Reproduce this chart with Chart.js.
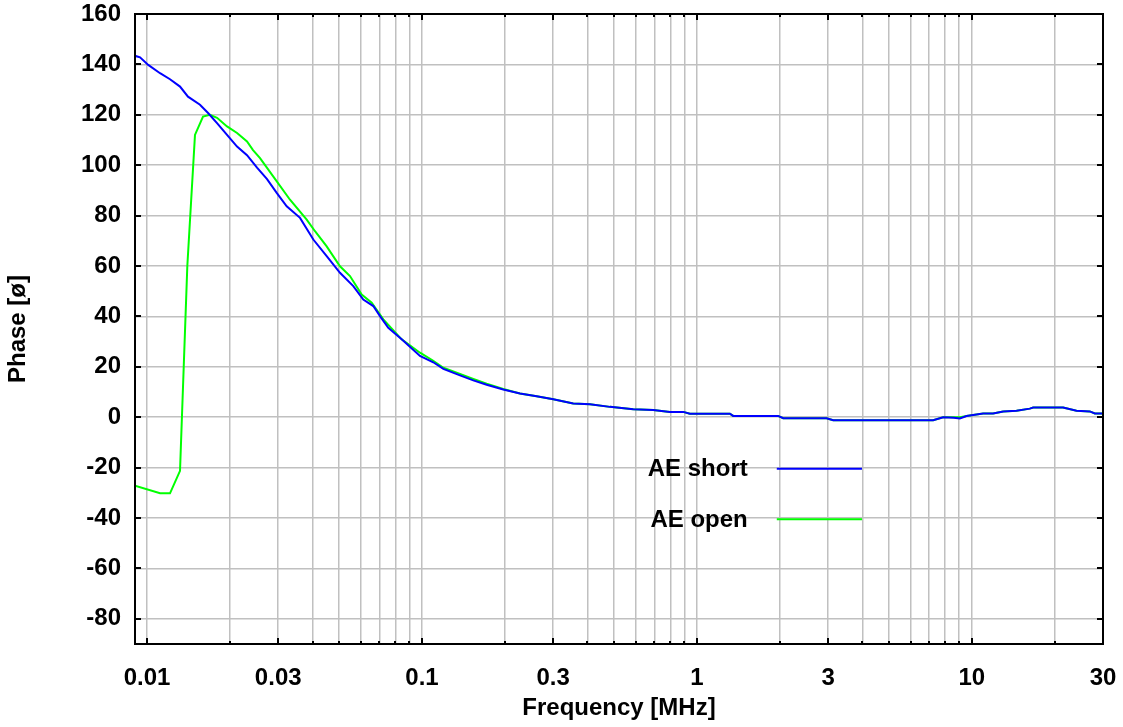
<!DOCTYPE html>
<html>
<head>
<meta charset="utf-8">
<title>Phase vs Frequency</title>
<script src="https://cdn.jsdelivr.net/npm/chart.js@4.4.1/dist/chart.umd.min.js"></script>
<style>
  html, body { margin: 0; padding: 0; background: #fff; }
  #wrap { width: 1123px; height: 727px; }
</style>
</head>
<body>
<div id="wrap"><canvas id="phaseChart" width="1123" height="727"></canvas></div>
<script>
// AE short (blue)
const freqShort = [0.00904, 0.00943, 0.0101, 0.01115, 0.01212, 0.01318, 0.01409, 0.01558, 0.01667, 0.01797,
  0.01954, 0.02125, 0.0231, 0.02512, 0.02732, 0.02962, 0.03221, 0.03601, 0.04025, 0.04502,
  0.05032, 0.05626, 0.06116, 0.06651, 0.07035, 0.07542, 0.08436, 0.09834, 0.1099, 0.1196,
  0.1375, 0.1537, 0.1719, 0.1975, 0.2272, 0.2613, 0.3003, 0.3549, 0.4083, 0.4826,
  0.5867, 0.6936, 0.7978, 0.8917, 0.943, 1.318, 1.355, 1.975, 2.06, 2.962,
  3.131, 7.234, 7.864, 8.6, 9.047, 9.566, 10.99, 11.95, 13.0, 14.54,
  16.25, 16.71, 21.48, 24.03, 26.86, 28.02, 30];
const phaseShort = [143.4, 142.8, 139.8, 136.5, 134.1, 131.2, 127.2, 124.0, 120.7, 116.7,
  112.0, 107.4, 104.0, 99.0, 94.5, 89.0, 83.7, 79.1, 70.5, 63.9,
  57.3, 52.0, 46.7, 44.1, 40.1, 35.5, 30.9, 24.3, 21.8, 19.2,
  16.6, 14.6, 12.9, 11.0, 9.4, 8.3, 7.1, 5.4, 5.1, 4.1,
  3.2, 2.9, 2.1, 2.1, 1.4, 1.4, 0.5, 0.5, -0.4, -0.4,
  -1.2, -1.2, 0.0, -0.2, -0.5, 0.5, 1.5, 1.5, 2.3, 2.6,
  3.4, 3.8, 3.8, 2.6, 2.3, 1.5, 1.5];

// AE open (green)
const freqOpen = [0.00904, 0.01115, 0.01212, 0.01318, 0.01401, 0.01494, 0.01598, 0.01694, 0.01797, 0.01954,
  0.02125, 0.0231, 0.02429, 0.02576, 0.0288, 0.03311, 0.03808, 0.04083, 0.04502, 0.05032,
  0.05472, 0.06035, 0.06563, 0.07234, 0.08436, 0.09834, 0.1099, 0.1196, 0.1375, 0.1537,
  0.1719, 0.1975, 0.2272, 0.2613, 0.3003, 0.3549, 0.4083, 0.4826, 0.5867, 0.6936,
  0.7978, 0.8917, 0.943, 1.318, 1.355, 1.975, 2.06, 2.962, 3.131, 7.234,
  7.864, 9.047, 9.566, 10.99, 11.95, 13.0, 14.54, 16.25, 16.71, 21.48,
  24.03, 26.86, 28.02, 30];
const phaseOpen = [-27.2, -30.2, -30.2, -21.3, 59.9, 112.0, 119.3, 120.0, 118.8, 115.4,
  112.8, 109.4, 106.0, 102.8, 95.5, 86.3, 78.4, 73.8, 67.8, 59.9,
  56.0, 48.7, 45.4, 38.8, 30.9, 25.6, 22.4, 19.6, 17.2, 15.2,
  13.3, 11.2, 9.4, 8.3, 7.1, 5.4, 5.1, 4.1, 3.2, 2.9,
  2.1, 2.1, 1.4, 1.4, 0.5, 0.5, -0.4, -0.4, -1.2, -1.2,
  0.0, 0.0, 0.5, 1.5, 1.5, 2.3, 2.6, 3.4, 3.8, 3.8,
  2.6, 2.3, 1.5, 1.5];

// axis ticks
const freqGrid = [0.01, 0.02, 0.03, 0.04, 0.05, 0.06, 0.07, 0.08, 0.09,
  0.1, 0.2, 0.3, 0.4, 0.5, 0.6, 0.7, 0.8, 0.9,
  1, 2, 3, 4, 5, 6, 7, 8, 9, 10, 20, 30];
const freqLabels = [0.01, 0.03, 0.1, 0.3, 1, 3, 10, 30];
const phaseTicks = [-80, -60, -40, -20, 0, 20, 40, 60, 80, 100, 120, 140, 160];

function toPoints(xs, ys) {
  return xs.map((x, i) => ({ x: x, y: ys[i] }));
}

const FONT = "'Liberation Sans', Arial, Helvetica, sans-serif";

// frame, inward tick marks and the legend inside the plot
const framePlugin = {
  id: 'frame',
  afterDatasetsDraw(chart, args, opts) {
    const ctx = chart.ctx;
    const a = chart.chartArea;
    const xs = chart.scales.x, ys = chart.scales.y;
    ctx.save();
    ctx.strokeStyle = '#000';
    ctx.lineWidth = 2;
    ctx.beginPath();
    ys.ticks.forEach(t => {
      const y = Math.round(ys.getPixelForValue(t.value));
      ctx.moveTo(a.left, y); ctx.lineTo(a.left + 6, y);
      ctx.moveTo(a.right, y); ctx.lineTo(a.right - 6, y);
    });
    xs.ticks.forEach(t => {
      const x = Math.round(xs.getPixelForValue(t.value));
      const len = freqLabels.includes(t.value) ? 6 : 3;
      ctx.moveTo(x, a.bottom); ctx.lineTo(x, a.bottom - len);
      ctx.moveTo(x, a.top); ctx.lineTo(x, a.top + len);
    });
    ctx.stroke();
    ctx.strokeRect(a.left, a.top, a.right - a.left, a.bottom - a.top);

    // legend
    ctx.font = 'bold 24px ' + FONT;
    ctx.textAlign = 'right';
    ctx.textBaseline = 'middle';
    chart.data.datasets.forEach((ds, i) => {
      const y = a.top + (opts.rowY[i]) * (a.bottom - a.top);
      const tx = a.left + opts.textRight * (a.right - a.left);
      const l0 = a.left + opts.lineFrom * (a.right - a.left);
      const l1 = a.left + opts.lineTo * (a.right - a.left);
      ctx.fillStyle = '#000';
      ctx.fillText(ds.label, tx, y + 1);
      ctx.strokeStyle = ds.borderColor;
      ctx.lineWidth = 2;
      ctx.beginPath();
      ctx.moveTo(l0, y); ctx.lineTo(l1, y);
      ctx.stroke();
    });
    ctx.restore();
  }
};

new Chart(document.getElementById('phaseChart').getContext('2d'), {
  type: 'line',
  data: {
    datasets: [
      {
        label: 'AE short',
        data: toPoints(freqShort, phaseShort),
        borderColor: '#0000ff',
        borderWidth: 2,
        pointRadius: 0,
        tension: 0,
        fill: false
      },
      {
        label: 'AE open',
        data: toPoints(freqOpen, phaseOpen),
        borderColor: '#00ff00',
        borderWidth: 2,
        pointRadius: 0,
        tension: 0,
        fill: false
      }
    ]
  },
  options: {
    responsive: false,
    animation: false,
    layout: { padding: { top: 14, right: 20, left: 0, bottom: 0 } },
    plugins: {
      legend: { display: false },
      tooltip: { enabled: false },
      frame: { textRight: 0.633, lineFrom: 0.663, lineTo: 0.751, rowY: [0.722, 0.802] }
    },
    scales: {
      x: {
        type: 'logarithmic',
        min: 0.00904,
        max: 30,
        afterBuildTicks: s => { s.ticks = freqGrid.map(v => ({ value: v })); },
        afterFit: s => {
          s.height = 83;
          s.paddingLeft = 0; s.paddingRight = 0;
        },
        grid: { color: '#c0c0c0', lineWidth: 1.5, drawTicks: false },
        border: { display: false },
        ticks: {
          autoSkip: false,
          maxRotation: 0,
          padding: 20,
          color: '#000',
          font: { family: FONT, size: 24, weight: 'bold' },
          callback: v => freqLabels.includes(v) ? String(v) : ''
        },
        title: {
          display: true,
          text: 'Frequency [MHz]',
          color: '#000',
          font: { family: FONT, size: 24, weight: 'bold' },
          padding: { top: 0, bottom: 4 }
        }
      },
      y: {
        type: 'linear',
        min: -90,
        max: 160,
        afterBuildTicks: s => { s.ticks = phaseTicks.map(v => ({ value: v })); },
        afterFit: s => {
          s.width = 135;
          s.paddingTop = 0; s.paddingBottom = 0;
        },
        grid: { color: '#c0c0c0', lineWidth: 1.5, drawTicks: false },
        border: { display: false },
        ticks: {
          padding: 14,
          color: '#000',
          font: { family: FONT, size: 24, weight: 'bold' }
        },
        title: {
          display: true,
          text: 'Phase [ø]',
          color: '#000',
          font: { family: FONT, size: 24, weight: 'bold' },
          padding: { top: 4, bottom: 0 }
        }
      }
    }
  },
  plugins: [framePlugin]
});
</script>
</body>
</html>
